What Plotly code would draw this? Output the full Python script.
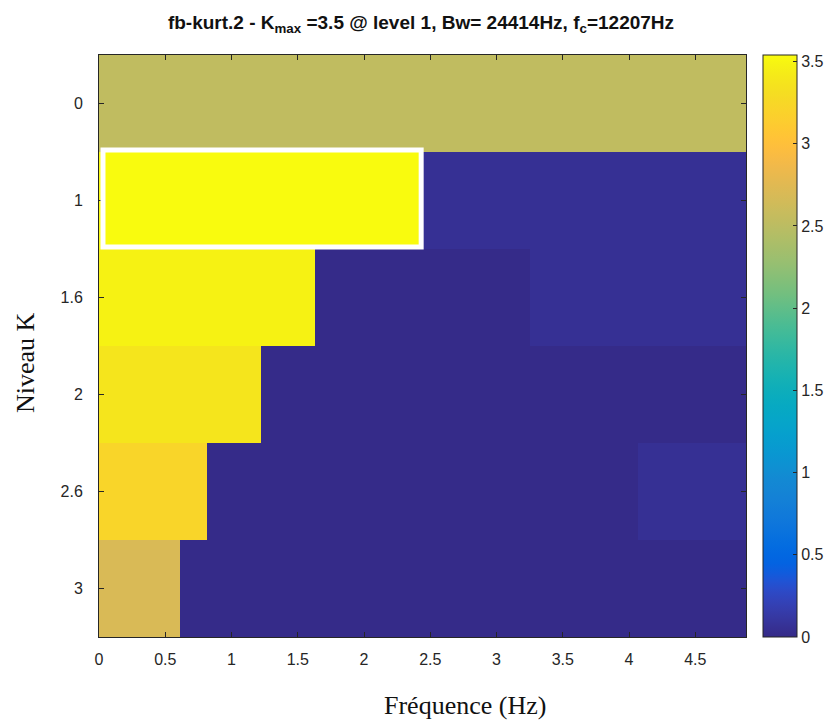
import plotly.graph_objects as go

# Kurtogram levels (rows) and spectral kurtosis per frequency band
levels = ["0", "1", "1.6", "2", "2.6", "3"]
kurt_level_0 = [2.53]
kurt_level_1 = [3.54, 0.06]
kurt_level_16 = [3.48, 0.01, 0.06]
kurt_level_2 = [3.38, 0.01, 0.01, 0.01]
kurt_level_26 = [3.22, 0.01, 0.01, 0.01, 0.01, 0.06]
kurt_level_3 = [2.70, 0.01, 0.01, 0.01, 0.01, 0.01, 0.01, 0.01]
rows = [kurt_level_0, kurt_level_1, kurt_level_16, kurt_level_2, kurt_level_26, kurt_level_3]

f_max = 4.8828          # Nyquist frequency
x_ticks = [0, 0.5, 1, 1.5, 2, 2.5, 3, 3.5, 4, 4.5]
cbar_ticks = [0, 0.5, 1, 1.5, 2, 2.5, 3, 3.5]
k_max = max(max(r) for r in rows)
best_level = 1
best_band = 0

parula = [
    [0.2081, 0.1663, 0.5292], [0.2116, 0.1898, 0.5777], [0.2123, 0.2138, 0.6270],
    [0.2081, 0.2386, 0.6771], [0.1959, 0.2645, 0.7279], [0.1707, 0.2919, 0.7792],
    [0.1253, 0.3242, 0.8303], [0.0591, 0.3598, 0.8683], [0.0117, 0.3875, 0.8820],
    [0.0060, 0.4086, 0.8828], [0.0165, 0.4266, 0.8786], [0.0329, 0.4430, 0.8720],
    [0.0498, 0.4586, 0.8641], [0.0629, 0.4737, 0.8554], [0.0723, 0.4887, 0.8467],
    [0.0779, 0.5040, 0.8384], [0.0793, 0.5200, 0.8312], [0.0749, 0.5375, 0.8263],
    [0.0641, 0.5570, 0.8240], [0.0488, 0.5772, 0.8228], [0.0343, 0.5966, 0.8199],
    [0.0265, 0.6137, 0.8135], [0.0239, 0.6287, 0.8038], [0.0231, 0.6418, 0.7913],
    [0.0228, 0.6535, 0.7768], [0.0267, 0.6642, 0.7607], [0.0384, 0.6743, 0.7436],
    [0.0590, 0.6838, 0.7254], [0.0843, 0.6928, 0.7062], [0.1133, 0.7015, 0.6859],
    [0.1453, 0.7098, 0.6646], [0.1801, 0.7177, 0.6424], [0.2178, 0.7250, 0.6193],
    [0.2586, 0.7317, 0.5954], [0.3022, 0.7376, 0.5712], [0.3482, 0.7424, 0.5473],
    [0.3953, 0.7459, 0.5244], [0.4420, 0.7481, 0.5033], [0.4871, 0.7491, 0.4840],
    [0.5300, 0.7491, 0.4661], [0.5709, 0.7485, 0.4494], [0.6099, 0.7473, 0.4337],
    [0.6473, 0.7456, 0.4188], [0.6834, 0.7435, 0.4044], [0.7184, 0.7411, 0.3905],
    [0.7525, 0.7384, 0.3768], [0.7858, 0.7356, 0.3633], [0.8185, 0.7327, 0.3498],
    [0.8507, 0.7299, 0.3360], [0.8824, 0.7274, 0.3217], [0.9139, 0.7258, 0.3063],
    [0.9450, 0.7261, 0.2886], [0.9739, 0.7314, 0.2666], [0.9938, 0.7455, 0.2403],
    [0.9990, 0.7653, 0.2164], [0.9955, 0.7861, 0.1967], [0.9880, 0.8066, 0.1794],
    [0.9789, 0.8271, 0.1633], [0.9697, 0.8481, 0.1475], [0.9626, 0.8705, 0.1309],
    [0.9589, 0.8949, 0.1132], [0.9598, 0.9218, 0.0948], [0.9661, 0.9514, 0.0755],
    [0.9763, 0.9831, 0.0538],
]
colorscale = [
    [i / (len(parula) - 1), "rgb(%d,%d,%d)" % tuple(round(255 * c) for c in rgb)]
    for i, rgb in enumerate(parula)
]

sans = "Liberation Sans Narrow, Arial Narrow, Liberation Sans, sans-serif"
serif = "Liberation Serif, Times New Roman, serif"
ink = "#262626"

fig = go.Figure()
for i, vals in enumerate(rows):
    n = len(vals)
    edges = [f_max * j / n for j in range(n + 1)]
    fig.add_trace(go.Heatmap(
        x=edges, y=[i, i + 1], z=[vals],
        colorscale=colorscale, zmin=0, zmax=k_max,
        showscale=(i == 0),
        colorbar=dict(
            x=1.0 + 17 / 647, xref="paper", xanchor="left", xpad=0,
            y=0.5, yanchor="middle", len=1.0, lenmode="fraction", ypad=0,
            thickness=34, outlinewidth=1, outlinecolor=ink,
            tickvals=cbar_ticks, ticktext=[f"{t:g}" for t in cbar_ticks],
            ticks="inside", ticklen=4, tickcolor=ink,
            tickfont=dict(family=sans, size=16, color=ink),
        ) if i == 0 else None,
        hoverinfo="skip",
    ))

# Highlight the band with maximum kurtosis
n_best = len(rows[best_level])
fig.add_shape(
    type="rect", xref="x", yref="y",
    x0=f_max * best_band / n_best + 0.03, x1=f_max * (best_band + 1) / n_best - 0.01,
    y0=best_level - 0.02, y1=best_level + 0.98,
    line=dict(color="white", width=5),
)

# Axis titles
fig.add_annotation(
    text="Fréquence (Hz)", xref="paper", yref="paper",
    x=(465 - 99) / 647, y=-(705 - 637) / 582, xanchor="center", yanchor="middle",
    showarrow=False, font=dict(family=serif, size=26, color="#111111"),
)
fig.add_annotation(
    text="Niveau K", xref="paper", yref="paper", textangle=-90,
    x=-(99 - 25) / 647, y=(637 - 363) / 582, xanchor="center", yanchor="middle",
    showarrow=False, font=dict(family=serif, size=26, color="#111111"),
)

fig.update_layout(
    width=827, height=720,
    margin=dict(l=99, r=81, t=55, b=83, autoexpand=False),
    paper_bgcolor="white", plot_bgcolor="white",
    title=dict(
        text="<b>fb-kurt.2 - K<sub>max</sub> =3.5 @ level 1, Bw= 24414Hz, f<sub>c</sub>=12207Hz</b>",
        x=421 / 827, xanchor="center", y=1 - 22 / 720, yanchor="middle",
        font=dict(family=sans, size=19, color="#111111"),
    ),
    xaxis=dict(
        range=[0, f_max], tickvals=x_ticks, ticktext=[f"{t:g}" for t in x_ticks],
        ticks="inside", ticklen=5, tickcolor=ink, mirror="ticks",
        showline=True, linecolor=ink, linewidth=1, showgrid=False, zeroline=False,
        tickfont=dict(family=sans, size=16, color=ink), ticklabelstandoff=8,
    ),
    yaxis=dict(
        range=[len(levels), 0],
        tickvals=[i + 0.5 for i in range(len(levels))], ticktext=levels,
        ticks="inside", ticklen=5, tickcolor=ink, mirror="ticks",
        showline=True, linecolor=ink, linewidth=1, showgrid=False, zeroline=False,
        tickfont=dict(family=sans, size=16, color=ink), ticklabelstandoff=12,
    ),
)

fig.write_html("out.html")
